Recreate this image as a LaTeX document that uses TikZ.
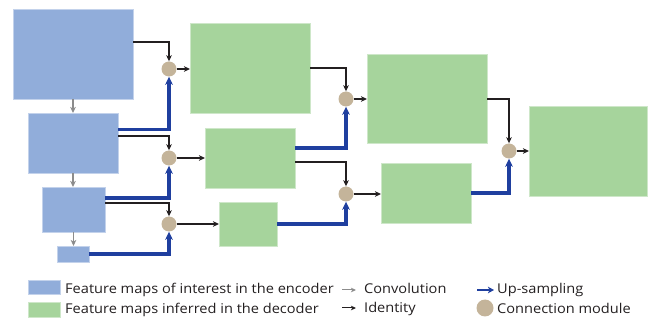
\documentclass[tikz,border=0pt]{standalone}
\usepackage{fontspec}
\setmainfont{Open Sans}
\newfontfamily\legfont[FakeStretch=1.08]{Open Sans}
\usetikzlibrary{arrows.meta}
\definecolor{encblue}{HTML}{91ADDA}
\definecolor{decgreen}{HTML}{A6D49C}
\definecolor{modtan}{HTML}{C4B49A}
\definecolor{upblue}{HTML}{1F3F9F}
\definecolor{idblack}{HTML}{231F20}
\definecolor{convgray}{HTML}{8C8C8C}
\begin{document}
\begin{tikzpicture}[x=1pt,y=-1pt,
  enc/.style={fill=encblue, draw=encblue!55!white, line width=0.7pt, inner sep=0pt, outer sep=0pt, anchor=north west},
  dec/.style={fill=decgreen, draw=decgreen!55!white, line width=0.7pt, inner sep=0pt, outer sep=0pt, anchor=north west},
  cmod/.style={circle, fill=modtan, inner sep=0pt, minimum size=15pt},
  idt/.style={draw=idblack, line width=1.3pt, -{Stealth[length=6pt,width=5.5pt,inset=1.5pt]}},
  conv/.style={draw=convgray, line width=1.3pt, -{Stealth[length=6pt,width=5.5pt,inset=1.5pt]}},
  ups/.style={draw=upblue, line width=3.2pt, -{Stealth[length=8pt,width=7.5pt,inset=2pt]}},
  legtext/.style={anchor=base west, inner sep=0pt, font=\legfont\fontsize{13.5}{15}\selectfont, text=idblack},
]
\useasboundingbox (0,0) rectangle (648,320);

% encoder
\node[enc, minimum width=120pt, minimum height=90pt] (e1) at (13,9) {};
\node[enc, minimum width=90pt, minimum height=60pt] (e2) at (28,113) {};
\node[enc, minimum width=63pt, minimum height=45pt] (e3) at (42,187) {};
\node[enc, minimum width=32pt, minimum height=16pt] (e4) at (57,246) {};

% decoder
\node[dec, minimum width=120pt, minimum height=90pt] (d1) at (190,23) {};
\node[dec, minimum width=90pt, minimum height=60pt] (d2) at (205,128) {};
\node[dec, minimum width=58pt, minimum height=44pt] (d3) at (219,202) {};
\node[dec, minimum width=120pt, minimum height=89pt] (d4) at (367,54) {};
\node[dec, minimum width=90pt, minimum height=60pt] (d5) at (381,163) {};
\node[dec, minimum width=118pt, minimum height=90pt] (d6) at (529,106) {};

% connection modules
\node[cmod] (c1) at (169,69) {};
\node[cmod] (c2) at (169,158) {};
\node[cmod] (c3) at (169,224) {};
\node[cmod] (c4) at (346,99) {};
\node[cmod] (c5) at (346,194) {};
\node[cmod] (c6) at (509,151) {};

% convolutions
\draw[conv] (e1.south) -- (e1.south |- e2.north);
\draw[conv] (e2.south) -- (e2.south |- e3.north);
\draw[conv] (e3.south) -- (e3.south |- e4.north);

% identity into modules
\draw[idt] ([yshift=-33pt]e1.north east) -| (c1);
\draw[idt] ([yshift=-23pt]e2.north east) -| (c2);
\draw[idt] ([yshift=-16pt]e3.north east) -| (c3);
\draw[idt] ([yshift=-45pt]d1.north east) -| (c4);
\draw[idt] ([yshift=-34pt]d2.north east) -| (c5);
\draw[idt] ([yshift=-45pt]d4.north east) -| (c6);

% up-sampling into modules
\draw[ups] ([yshift=-16.5pt]e2.north east) -| (c1);
\draw[ups] ([yshift=-11pt]e3.north east) -| (c2);
\draw[ups] (e4.east) -| (c3);
\draw[ups] ([yshift=-20pt]d2.north east) -| (c4);
\draw[ups] (d3.east) -| (c5);
\draw[ups] (d5.east) -| (c6);

% modules to decoder maps
\draw[idt] (c1) -- (c1 -| d1.west);
\draw[idt] (c2) -- (c2 -| d2.west);
\draw[idt] (c3) -- (c3 -| d3.west);
\draw[idt] (c4) -- (c4 -| d4.west);
\draw[idt] (c5) -- (c5 -| d5.west);
\draw[idt] (c6) -- (c6 -| d6.west);

% legend
\node[enc, minimum width=32pt, minimum height=14pt] (lgenc) at (28,280) {};
\node[dec, minimum width=32pt, minimum height=15pt] (lgdec) at (28,302) {};
\node[legtext] (tenc) at (65,294) {Feature maps of interest in the encoder};
\node[legtext] (tdec) at (65,314) {Feature maps inferred in the decoder};

\coordinate (cva) at (342,290); \coordinate (cvb) at (356,290);
\draw[draw=convgray, line width=1pt, -{Stealth[length=5pt,width=4.5pt,inset=1.2pt]}] (cva) -- (cvb);
\node[legtext] (tconv) at (364,294) {Convolution};
\coordinate (ida) at (342,308); \coordinate (idb) at (356,308);
\draw[draw=idblack, line width=1pt, -{Stealth[length=5pt,width=4.5pt,inset=1.2pt]}] (ida) -- (idb);
\node[legtext] (tid) at (364,312.5) {Identity};

\coordinate (upa) at (477,290); \coordinate (upb) at (494,290);
\draw[draw=upblue, line width=2.4pt, -{Stealth[length=6pt,width=6.5pt,inset=1.5pt]}] (upa) -- (upb);
\node[legtext] (tup) at (497,294) {Up-sampling};
\node[cmod, minimum size=17pt] (lgmod) at (485,308) {};
\node[legtext] (tmod) at (497,314) {Connection module};
\end{tikzpicture}
\end{document}
